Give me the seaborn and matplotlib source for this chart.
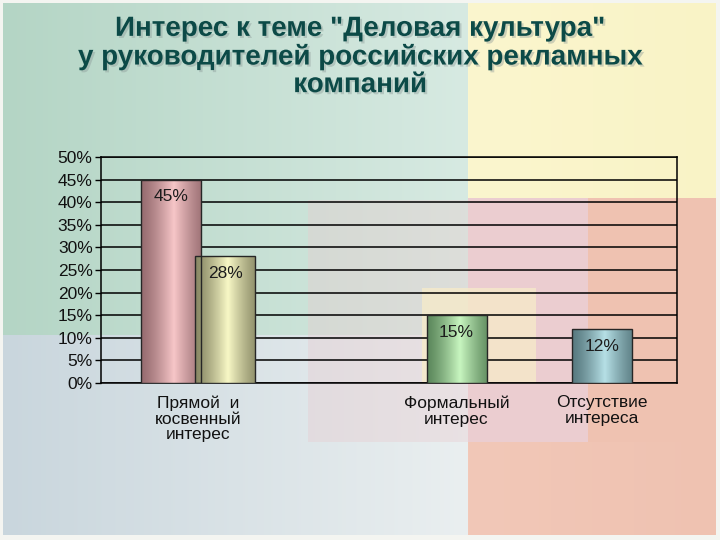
import numpy as np
import pandas as pd
import matplotlib
matplotlib.use("Agg")
import matplotlib.pyplot as plt
import matplotlib.colors as mcolors
from matplotlib import patheffects
import seaborn as sns

# ---------------- data ----------------
title = 'Интерес к теме "Деловая культура"\nу руководителей российских рекламных\nкомпаний'
categories = ["Прямой  и\nкосвенный\nинтерес", "Формальный\nинтерес", "Отсутствие\nинтереса"]
bar_values = [45, 28, 15, 12]
bar_labels = ["45%", "28%", "15%", "12%"]
y_ticks = [0, 5, 10, 15, 20, 25, 30, 35, 40, 45, 50]
y_tick_labels = ["0%", "5%", "10%", "15%", "20%", "25%", "30%", "35%", "40%", "45%", "50%"]

# layout (positions on the x axis, not data)
bar_pos = [1.167, 2.067, 5.925, 8.35]
cat_pos = [(bar_pos[0] + bar_pos[1]) / 2, bar_pos[2], bar_pos[3]]
bar_grad = [("#976c70", "#f7c6c8"), ("#888864", "#f8f8c6"),
            ("#5c885c", "#c8f6c0"), ("#587a80", "#b6e0e6")]

sns.set_theme(style="white")
plt.rcParams["font.family"] = ["Liberation Sans", "DejaVu Sans"]

W, H = 720, 540
fig = plt.figure(figsize=(7.2, 5.4), dpi=100)

# ---------------- decorative background ----------------
def c(h):
    return np.array(mcolors.to_rgb(h))

img = np.ones((H, W, 3)) * c("#f4f5f1")
xs = np.arange(W)
t = ((xs[3:468] - 3) / 465.0)[:, None]
img[3:335, 3:468] = ((1 - t) * c("#b4d5c5") + t * c("#d7eae2"))[None, :, :]
img[335:535, 3:468] = ((1 - t) * c("#c9d6dd") + t * c("#eaeff0"))[None, :, :]
ty = ((xs[468:716] - 468) / 248.0)[:, None]
img[3:198, 468:716] = ((1 - ty) * c("#fbf6ce") + ty * c("#f9f3c6"))[None, :, :]
img[198:535, 588:716] = c("#efc2b1")
ts = ((xs[468:716] - 468) / 248.0)[:, None]
img[442:535, 468:716] = ((1 - ts) * c("#f2c8b8") + ts * c("#efc2b1"))[None, :, :]
img[198:442, 468:588] = c("#ebcdd0")
a = 0.35
img[200:442, 308:468] = (1 - a) * img[200:442, 308:468] + a * c("#e8c8cc")
a2 = 0.75
img[288:383, 422:536] = (1 - a2) * img[288:383, 422:536] + a2 * c("#f7ebc8")

bgax = fig.add_axes([0, 0, 1, 1], zorder=0)
bgax.imshow(img, aspect="auto", interpolation="bilinear")
bgax.axis("off")

# ---------------- chart ----------------
ax = fig.add_axes([101 / W, 1 - 383 / H, 576 / W, 226 / H], zorder=1)
ax.set_facecolor("none")

df = pd.DataFrame({"pos": bar_pos, "value": bar_values})
min_gap = min(np.diff(sorted(bar_pos)))
sns.barplot(data=df, x="pos", y="value", native_scale=True, orient="x",
            width=1.0 / min_gap, color="#cccccc", ax=ax, zorder=3)

for patch, (edge, mid) in zip(ax.patches, bar_grad):
    x0, y0 = patch.get_x(), patch.get_y()
    w, h = patch.get_width(), patch.get_height()
    n = 200
    u = np.linspace(0, 1, n)
    k = np.clip(1 - np.abs(u - 0.55) / 0.55, 0, 1) ** 1.3
    grad = (1 - k)[:, None] * c(edge) + k[:, None] * c(mid)
    im = ax.imshow(grad[None, :, :], extent=[x0, x0 + w, y0, y0 + h],
                   aspect="auto", interpolation="bilinear", zorder=3.5)
    im.set_clip_path(patch)
    patch.set_facecolor("none")
    patch.set_edgecolor("#262626")
    patch.set_linewidth(1.0)
    patch.set_zorder(4)

for p, v, lbl in zip(bar_pos, bar_values, bar_labels):
    ax.annotate(lbl, (p, v), xytext=(0, -12.5), textcoords="offset points",
                ha="center", va="center", fontsize=12.5, color="#1c1c1c", zorder=5)

ax.set_xlim(0, 9.6)
ax.set_ylim(0, 50)
ax.set_yticks(y_ticks)
ax.set_yticklabels(y_tick_labels)
ax.set_xticks(cat_pos)
ax.set_xticklabels(categories, linespacing=1.05)
ax.set_xlabel("")
ax.set_ylabel("")
ax.yaxis.grid(True, color="black", linewidth=1.1)
ax.xaxis.grid(False)
ax.set_axisbelow(True)
for s in ax.spines.values():
    s.set_visible(True)
    s.set_color("black")
    s.set_linewidth(1.1)
ax.tick_params(axis="y", left=True, length=4, width=1, color="black",
               labelsize=12.5, pad=2, labelcolor="#111111")
ax.tick_params(axis="x", bottom=False, length=0, labelsize=12.5, pad=9,
               labelcolor="#111111")

fig.text(0.5, 1 - 57 / H, title, ha="center", va="center", fontsize=20,
         fontweight="bold", color="#0c4a47", linespacing=1.08,
         path_effects=[patheffects.withSimplePatchShadow(offset=(1.5, -1.5),
                                                         shadow_rgbFace="#8a9896",
                                                         alpha=0.4)])

fig.savefig("out.png", dpi=100)
